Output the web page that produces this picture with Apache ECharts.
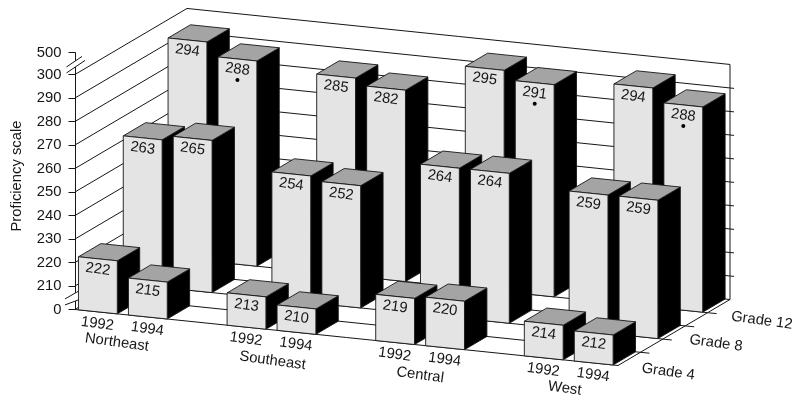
<!DOCTYPE html>
<html>
<head>
<meta charset="utf-8">
<style>html,body{margin:0;padding:0;background:#fff}#chart{width:796px;height:395px}</style>
<script src="https://cdn.jsdelivr.net/npm/echarts@6/dist/echarts.min.js"></script>
</head>
<body>
<div id="chart"></div>
<script>
// Average proficiency by region, assessment year and grade
const regions = ['Northeast', 'Southeast', 'Central', 'West'];
const years = ['1992', '1994'];
const grades = ['Grade 4', 'Grade 8', 'Grade 12'];
const scoresGrade4 = [222, 215, 213, 210, 219, 220, 214, 212];
const scoresGrade8 = [263, 265, 254, 252, 264, 264, 259, 259];
const scoresGrade12 = [294, 288, 285, 282, 295, 291, 294, 288];
const flaggedGrade12 = [0, 1, 0, 0, 0, 1, 0, 1];
const tickLabels = ['0', '210', '220', '230', '240', '250', '260', '270', '280', '290', '300', '500'];

// The scale is broken twice: 0-210 and 300-500 each take one short step
const tickSlots = [0, 1, 2, 3, 4, 5, 6, 7, 8, 9, 10, 10.93];
// Box tops: the break below 210 is drawn slightly taller than one full step
const scaleSlot = v => 1.08 + (v - 210) * 0.0981;

// Oblique box: the x axis runs 0..1 along the floor front, depth runs 0..1 to the back wall
const FONT = '14.8px "Liberation Sans", Arial, sans-serif';
const INK = '#161616';
const floorRise = 56;
const depthX = 112, depthY = -66;
const textTilt = -0.135;
const rowDepth = [0, 0.4, 0.8];
const barDepth = 0.2;
const barWidth = 0.0715, groupStart = 0.0064, groupStep = 0.2737, pairStep = 0.092;
const regionNudge = [[-6, 28], [1, 31], [0, 30], [-4, 28]];
const gradeNudge = [[39, 13], [42, 10.7], [43, 14.5]];

function project(api, u, d, h) {
  const p = api.coord([u, h]);
  return [p[0] + d * depthX, p[1] + u * floorRise + d * depthY];
}
const slotU = (region, year) => groupStart + region * groupStep + year * pairStep;

function line(points, width) {
  return { type: 'polyline', shape: { points }, style: { stroke: INK, lineWidth: width || 1, fill: null } };
}
function label(text, p, rotation) {
  return {
    type: 'text', x: p[0], y: p[1], rotation: rotation === undefined ? textTilt : rotation,
    style: { text, font: FONT, fill: INK, align: 'center', verticalAlign: 'middle' }
  };
}

// Walls, floor rules, tick stubs and the axis break marks
function renderFrame(params, api) {
  const kids = [];
  for (let h = 0; h <= 10; h++) {
    kids.push(line([project(api, 0, 0, h), project(api, 0, 1, h), project(api, 1, 1, h)]));
    if (h >= 1 && h <= 9) {
      const p = project(api, 1, 1, h);
      kids.push(line([p, [p[0] + 4, p[1] + 0.4]]));
    }
  }
  [0, 0.2, 0.4, 0.6, 0.8].forEach(d => {
    const a = project(api, 0, d, 0), b = project(api, 1, d, 0);
    kids.push(line(d === 0 ? [a, b] : [a, b, [b[0] + 9, b[1] + 0.9]]));
  });
  kids.push(line([project(api, 1, 0, 0), project(api, 1, 1, 0), project(api, 1, 1, 10)]));

  const breakMark = (slot, dx1, dx2, rise1, rise2, gapY) => {
    const o = api.coord([0, slot]);
    const a1 = [o[0] + dx1, o[1]], a2 = [o[0] + dx2, o[1] - rise1];
    const b1 = [o[0] + dx1, o[1] + gapY], b2 = [o[0] + dx2 + 3, o[1] + gapY - rise2];
    kids.push({
      type: 'polygon', shape: { points: [a1, a2, b2, b1] },
      style: { fill: '#fff', stroke: null }
    });
    kids.push(line([a1, a2]), line([b1, b2]));
  };
  breakMark(10.32, -8.5, 7, 10.5, 12.5, 6);
  breakMark(0.45, -10, 3, 7.5, 6, 6);
  return { type: 'group', children: kids };
}

// One box per datum: back rows first, left to right, so nearer boxes overlap farther ones
function renderBar(params, api) {
  const u = api.value(0), top = api.value(1), d = api.value(2);
  const score = api.value(3), flagged = api.value(4);
  const u2 = u + barWidth, d2 = d + barDepth;
  const faces = [
    { pts: [project(api, u2, d, 0), project(api, u2, d2, 0), project(api, u2, d2, top), project(api, u2, d, top)], fill: '#000000' },
    { pts: [project(api, u, d, top), project(api, u2, d, top), project(api, u2, d2, top), project(api, u, d2, top)], fill: '#a4a4a4' },
    { pts: [project(api, u, d, 0), project(api, u2, d, 0), project(api, u2, d, top), project(api, u, d, top)], fill: '#e4e4e4' }
  ];
  const kids = faces.map(f => ({
    type: 'polygon', shape: { points: f.pts },
    style: { fill: f.fill, stroke: INK, lineWidth: 0.9, lineJoin: 'round' }
  }));
  const c = project(api, u + barWidth / 2, d, top);
  kids.push(label(String(score), [c[0], c[1] + 10.5]));
  if (flagged) {
    kids.push({ type: 'circle', shape: { cx: c[0], cy: c[1] + 21, r: 2 }, style: { fill: '#000' } });
  }
  return { type: 'group', children: kids };
}

// Year, region and grade captions along the floor edges
function renderCaptions(params, api) {
  const kids = [];
  regions.forEach((name, r) => {
    years.forEach((year, y) => {
      const p = project(api, slotU(r, y) + barWidth / 2, 0, 0);
      kids.push(label(year, [p[0] - 0.5, p[1] + 12]));
    });
    const p = project(api, slotU(r, 0) + (pairStep + barWidth) / 2, 0, 0);
    kids.push(label(name, [p[0] + regionNudge[r][0], p[1] + regionNudge[r][1]]));
  });
  grades.forEach((name, g) => {
    const p = project(api, 1, rowDepth[g] + barDepth / 2, 0);
    kids.push(label(name, [p[0] + gradeNudge[g][0], p[1] + gradeNudge[g][1]]));
  });
  return { type: 'group', children: kids };
}

const rows = [scoresGrade12, scoresGrade8, scoresGrade4];
const barData = [];
rows.forEach((scores, i) => {
  const g = 2 - i;
  scores.forEach((score, k) => {
    const r = Math.floor(k / 2), y = k % 2;
    const flagged = g === 2 ? flaggedGrade12[k] : 0;
    barData.push([slotU(r, y), scaleSlot(score), rowDepth[g], score, flagged]);
  });
});

const chart = echarts.init(document.getElementById('chart'), null, { renderer: 'canvas' });
chart.setOption({
  animation: false,
  backgroundColor: '#fff',
  grid: { left: 75, width: 543, top: 52.6, height: 256.9, containLabel: false },
  xAxis: { type: 'value', min: 0, max: 1, show: false },
  yAxis: {
    type: 'value', min: 0, max: 10.93,
    splitLine: { show: false },
    axisLine: { show: true, lineStyle: { color: INK, width: 1 } },
    axisTick: { show: true, length: 6.5, customValues: tickSlots, lineStyle: { color: INK, width: 1 } },
    axisLabel: {
      customValues: tickSlots, margin: 13.5, color: INK,
      fontFamily: '"Liberation Sans", Arial, sans-serif', fontSize: 14.8,
      formatter: v => tickLabels[tickSlots.indexOf(v)]
    }
  },
  graphic: [{
    type: 'text', x: 16.5, y: 176, rotation: Math.PI / 2,
    style: { text: 'Proficiency scale', font: FONT, fill: INK, align: 'center', verticalAlign: 'middle' }
  }],
  series: [
    { type: 'custom', coordinateSystem: 'cartesian2d', clip: false, silent: true, z: 2,
      renderItem: renderFrame, data: [[0, 0]] },
    { type: 'custom', coordinateSystem: 'cartesian2d', clip: false, silent: true, z: 3,
      renderItem: renderBar, encode: { x: 0, y: 1 }, data: barData },
    { type: 'custom', coordinateSystem: 'cartesian2d', clip: false, silent: true, z: 4,
      renderItem: renderCaptions, data: [[0, 0]] }
  ]
});
</script>
</body>
</html>
